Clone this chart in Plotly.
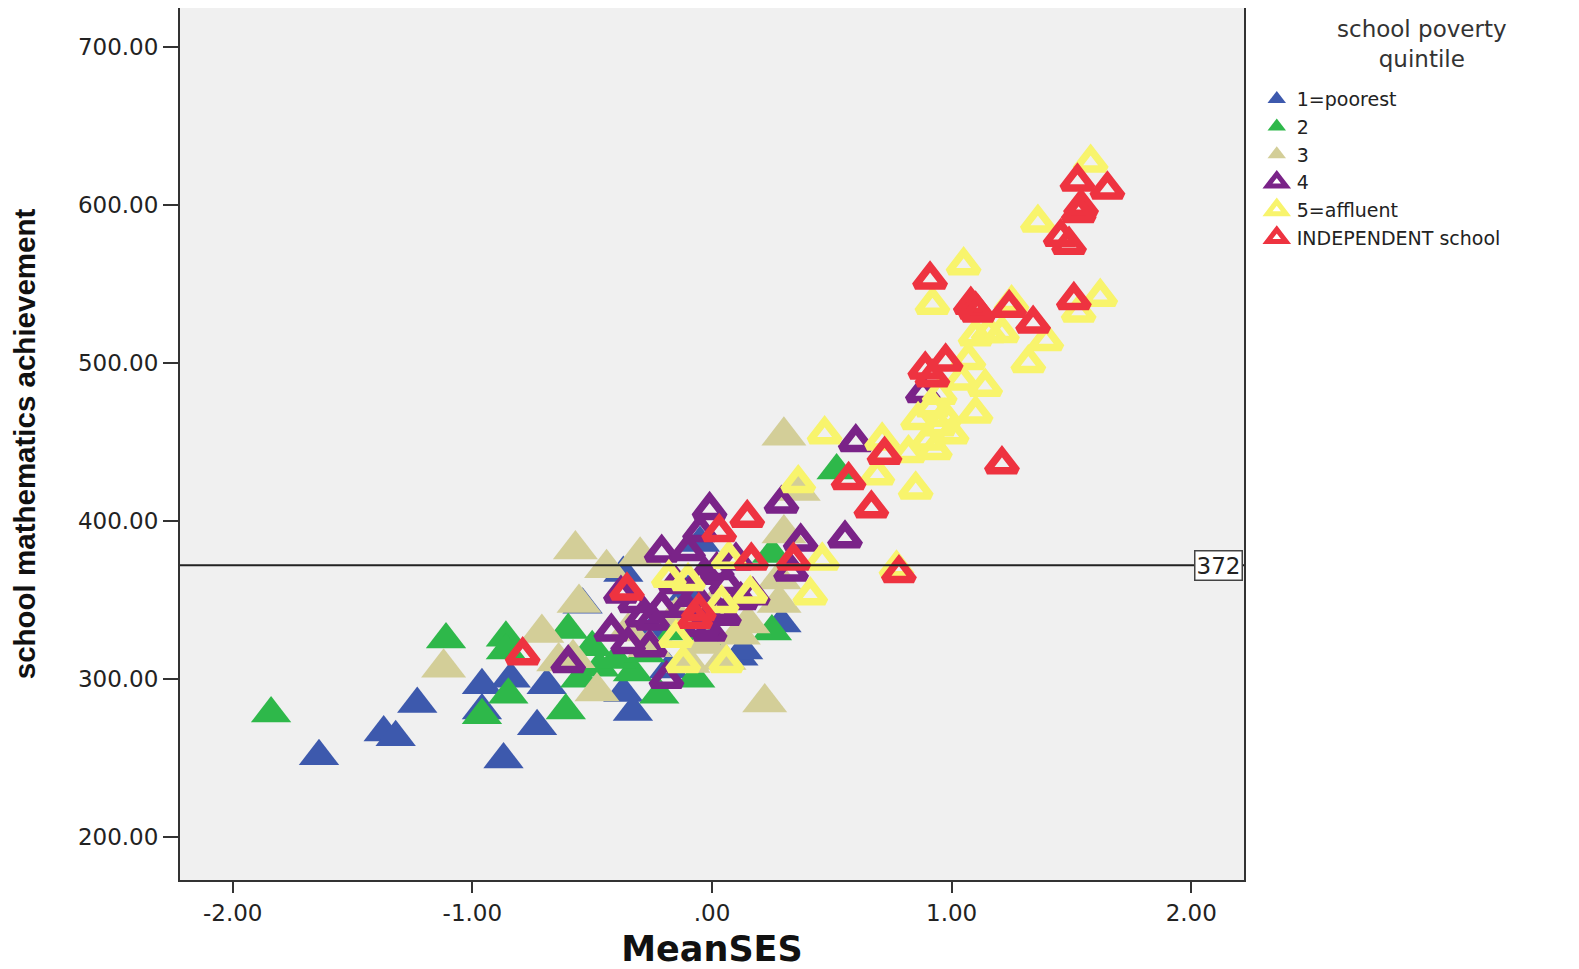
import plotly.graph_objects as go

# ---------------- data ----------------
group_names = ["1=poorest", "2", "3", "4", "5=affluent", "INDEPENDENT school"]
legend_title = "school poverty<br>quintile"

ses_q1 = [-1.64, -1.37, -1.32, -1.23, -0.96, -0.96, -0.87, -0.84, -0.73, -0.69,
          -0.54, -0.37, -0.37, -0.33, -0.18, -0.05, 0.11, 0.13, 0.29, -0.25, 0.00, -0.10]
math_q1 = [251, 266, 263, 284, 296, 280, 249, 300, 270, 296,
           347, 367, 291, 279, 306, 386, 314, 318, 335, 330, 340, 355]

ses_q2 = [-1.84, -1.11, -0.86, -0.86, -0.85, -0.96, -0.61, -0.60, -0.47, -0.33,
          -0.22, -0.07, 0.25, 0.52, 0.25, -0.50, -0.40, -0.28, -0.15, -0.02, -0.55]
math_q2 = [278, 325, 326, 318, 290, 277, 280, 331, 307, 304,
           290, 300, 330, 432, 379, 320, 312, 316, 330, 322, 300]

ses_q3 = [-1.12, -0.71, -0.64, -0.58, -0.57, -0.555, -0.48, -0.44, -0.30, -0.26,
          -0.03, 0.05, 0.11, 0.22, 0.28, 0.28, 0.30, 0.30, 0.36, -0.15, 0.00, 0.15,
          -0.35, -0.10]
math_q3 = [307, 329, 311, 313, 382, 348, 292, 370, 378, 320,
           322, 312, 328, 285, 363, 348, 392, 454, 419, 340, 345, 335,
           330, 310]

ses_q4 = [0.60, 0.29, -0.01, -0.05, 0.37, 0.555, -0.21, -0.10, 0.88, 0.33,
          -0.42, -0.35, -0.26, -0.19, 0.17, 0.06, -0.21, -0.29, -0.01, 0.02,
          -0.38, -0.03, -0.60, -0.32, -0.25, -0.04, -0.11, 0.02, 0.10, 0.12,
          -0.15, 0.05, -0.07]
math_q4 = [450, 411, 407, 393, 387, 389, 380, 381, 481, 368,
           330, 322, 320, 300, 353, 360, 345, 339, 330, 343,
           354, 366, 310, 348, 337, 333, 345, 369, 375, 350,
           360, 340, 352]

ses_q5 = [1.58, 1.36, 1.05, 0.92, 1.62, 1.53, 1.25, 1.155, 1.10, 1.21,
          1.395, 1.32, 1.07, 1.14, 1.04, 1.10, 0.92, 0.86, 0.945, 0.90,
          0.97, 0.47, 0.71, 0.82, 0.69, 0.36, 0.85, 0.46, 0.77, 0.07,
          0.41, -0.18, -0.10, 0.16, 0.04, -0.15, -0.12, 0.06, 0.95, 1.00, 0.93]
math_q5 = [627, 589, 562, 537, 542, 532, 538, 519, 517, 519,
           514, 500, 502, 485, 489, 468, 472, 464, 460, 451,
           466, 455, 451, 443, 429, 424, 420, 375, 370, 376,
           353, 364, 362, 354, 348, 326, 310, 310, 480, 455, 445]

ses_ind = [1.525, 1.65, 1.54, 1.53, 1.455, 1.49, 0.91, 1.51, 1.08, 1.10,
           1.11, 1.24, 1.34, 0.89, 0.975, 0.92, 0.72, 1.21, 0.57, 0.665,
           0.147, 0.03, 0.164, 0.34, 0.78, -0.355, -0.055, -0.07, -0.79]
math_ind = [615, 610, 599, 595, 580, 575, 553, 540, 537, 534,
            532, 535, 525, 496, 501, 491, 442, 436, 426, 408,
            402, 393, 375, 375, 367, 356, 343, 338, 315]

reference_value = 372
x_tickvals = [-2, -1, 0, 1, 2]
x_ticktext = ["-2.00", "-1.00", ".00", "1.00", "2.00"]
y_tickvals = [200, 300, 400, 500, 600, 700]
y_ticktext = ["200.00", "300.00", "400.00", "500.00", "600.00", "700.00"]

# ---------------- styling ----------------
groups = [
    (ses_q1, math_q1, "#3d59ad", "triangle-up", 35, 0),
    (ses_q2, math_q2, "#2eb84a", "triangle-up", 35, 0),
    (ses_q3, math_q3, "#d3ce98", "triangle-up", 39, 0),
    (ses_q4, math_q4, "#7a2388", "triangle-up-open", 26, 7.5),
    (ses_q5, math_q5, "#f8f46c", "triangle-up-open", 26, 7.5),
    (ses_ind, math_ind, "#ee3340", "triangle-up-open", 26, 7.5),
]

fig = go.Figure()
for name, (xs, ys, col, sym, sz, lw) in zip(group_names, groups):
    marker = dict(symbol=sym, size=sz, color=col, opacity=1)
    if lw:
        marker["line"] = dict(color=col, width=lw)
    else:
        marker["line"] = dict(width=0)
    fig.add_trace(go.Scatter(x=xs, y=ys, mode="markers", name=name,
                             marker=marker, hoverinfo="x+y"))

fig.add_shape(type="line", xref="paper", x0=0, x1=1, yref="y",
              y0=reference_value, y1=reference_value,
              line=dict(color="#222222", width=2))
fig.add_annotation(xref="paper", x=0.999, xanchor="right", yref="y", y=reference_value,
                   text=str(reference_value), showarrow=False,
                   font=dict(family="DejaVu Sans", size=23, color="#222222"),
                   bgcolor="white", bordercolor="#444444", borderwidth=1.5, borderpad=1)

# legend title (centred over the legend block)
fig.add_annotation(xref="paper", x=1.1673, xanchor="center",
                   yref="paper", y=0.993, yanchor="top",
                   text=legend_title, showarrow=False, align="center",
                   font=dict(family="DejaVu Sans", size=23, color="#333333"))

axis_font = dict(family="DejaVu Sans", size=23, color="#222222")
fig.update_layout(
    width=1571, height=961,
    margin=dict(l=172, r=335, t=0, b=89, autoexpand=False),
    paper_bgcolor="white",
    plot_bgcolor="#f0f0f0",
    showlegend=True,
    legend=dict(
        x=1.012, y=0.9174, xanchor="left", yanchor="top",
        font=dict(family="DejaVu Sans", size=19, color="#222222"),
        bgcolor="rgba(0,0,0,0)", itemsizing="trace", tracegroupgap=0,
    ),
    xaxis=dict(
        range=[-2.22, 2.22], tickvals=x_tickvals, ticktext=x_ticktext,
        showgrid=False, zeroline=False, showline=True, mirror=True,
        linecolor="#333333", linewidth=2, ticks="outside", ticklen=11,
        tickwidth=2, tickcolor="#333333", tickfont=axis_font, automargin=False,
        title=dict(text="<b>MeanSES</b>", standoff=21,
                   font=dict(family="DejaVu Sans", size=35, color="#111111")),
    ),
    yaxis=dict(
        range=[172.6, 724.9], tickvals=y_tickvals, ticktext=y_ticktext,
        showgrid=False, zeroline=False, showline=True, mirror=True,
        linecolor="#333333", linewidth=2, ticks="outside", ticklen=15,
        tickwidth=2, tickcolor="#333333", tickfont=axis_font, automargin=False,
        title=dict(text="<b>school mathematics achievement</b>", standoff=34,
                   font=dict(family="Liberation Sans", size=29.5, color="#111111")),
    ),
)

fig.write_html("out.html")
